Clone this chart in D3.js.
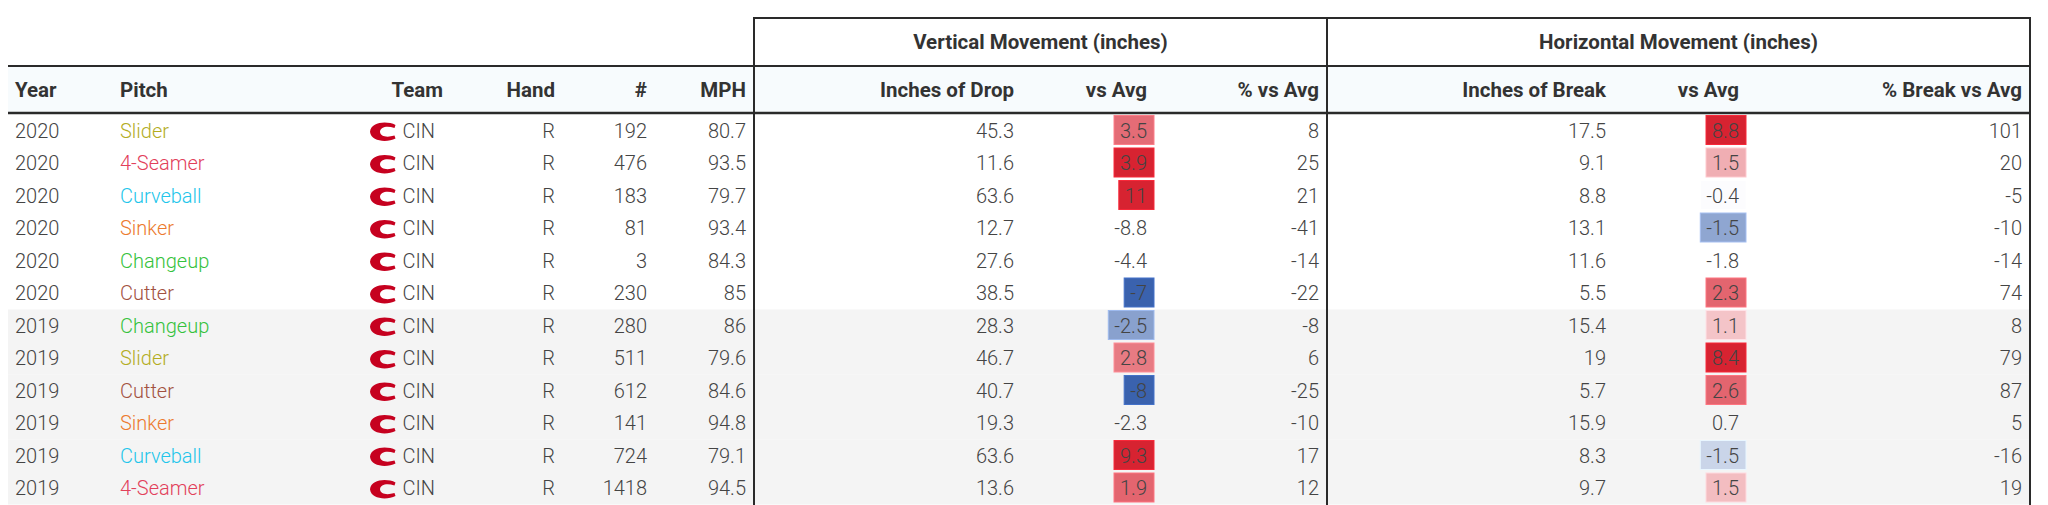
<!DOCTYPE html>
<html>
<head>
<meta charset="utf-8">
<script src="https://cdn.jsdelivr.net/npm/d3@7"></script>
<style>
  html, body { margin: 0; padding: 0; background: #fff; }
  svg { display: block; }
  text { font-family: Roboto, "Noto Sans", sans-serif; }
  .body { font-size: 20px; font-weight: 300; fill: #444; }
  .hdr { font-size: 20.5px; font-weight: 700; fill: #333; }
</style>
</head>
<body>
<svg id="chart" width="2048" height="505"></svg>
<script>
// ---------------- data ----------------
const years    = [2020, 2020, 2020, 2020, 2020, 2020, 2019, 2019, 2019, 2019, 2019, 2019];
const pitches  = ["Slider", "4-Seamer", "Curveball", "Sinker", "Changeup", "Cutter",
                  "Changeup", "Slider", "Cutter", "Sinker", "Curveball", "4-Seamer"];
const teams    = ["CIN", "CIN", "CIN", "CIN", "CIN", "CIN", "CIN", "CIN", "CIN", "CIN", "CIN", "CIN"];
const hands    = ["R", "R", "R", "R", "R", "R", "R", "R", "R", "R", "R", "R"];
const counts   = [192, 476, 183, 81, 3, 230, 280, 511, 612, 141, 724, 1418];
const mph      = [80.7, 93.5, 79.7, 93.4, 84.3, 85, 86, 79.6, 84.6, 94.8, 79.1, 94.5];
const drop     = [45.3, 11.6, 63.6, 12.7, 27.6, 38.5, 28.3, 46.7, 40.7, 19.3, 63.6, 13.6];
const dropVsAvg = [3.5, 3.9, 11, -8.8, -4.4, -7, -2.5, 2.8, -8, -2.3, 9.3, 1.9];
const dropPct  = [8, 25, 21, -41, -14, -22, -8, 6, -25, -10, 17, 12];
const brk      = [17.5, 9.1, 8.8, 13.1, 11.6, 5.5, 15.4, 19, 5.7, 15.9, 8.3, 9.7];
const brkVsAvg = [8.8, 1.5, -0.4, -1.5, -1.8, 2.3, 1.1, 8.4, 2.6, 0.7, -1.5, 1.5];
const brkPct   = [101, 20, -5, -10, -14, 74, 8, 79, 87, 5, -16, 19];
// shading level of the "vs Avg" cells (-3 strong blue .. 3 strong red)
const dropShade = [2, 3, 3, 0, 0, -3, -1.8, 1.8, -3, 0, 3, 2.1];
const brkShade  = [3, 1.1, -0.05, -1.7, 0, 2.1, 0.8, 3, 2.1, 0, -0.8, 0.9];

const headers = ["Year", "Pitch", "Team", "Hand", "#", "MPH",
                 "Inches of Drop", "vs Avg", "% vs Avg",
                 "Inches of Break", "vs Avg", "% Break vs Avg"];
const groups = ["Vertical Movement (inches)", "Horizontal Movement (inches)"];
const pitchNames  = ["Slider", "4-Seamer", "Curveball", "Sinker", "Changeup", "Cutter"];
const pitchColors = ["#b3ad1f", "#e2405a", "#22c5ea", "#ec7a2e", "#35c23c", "#a2513f"];

// ---------------- layout ----------------
const W = 2048, H = 505;
const tableLeft = 8, tableRight = 2030;
const groupTop = 18, headTop = 66, headBottom = 113;
const rowsTop = 114.5, rowH = 32.5;
const colRight = [0, 0, 451, 563, 655, 754, 1022, 1155, 1327, 1614, 1747, 2030];
const colLeft  = [15, 120];
const pad = 8;
const teamTextRight = 435, logoX = 370;
const groupSpans = [[754, 1327], [1327, 2030]];

const svg = d3.select("#chart");
const n = years.length;
const y = d3.scaleBand().domain(d3.range(n)).range([rowsTop, rowsTop + n * rowH]);
const pitchColor = d3.scaleOrdinal().domain(pitchNames).range(pitchColors);
const shade = d3.scaleLinear().domain([-3, 0, 3])
  .range(["#3a62ae", "#ffffff", "#d72331"]).interpolate(d3.interpolateRgb);

// header background
svg.append("rect").attr("x", tableLeft).attr("y", headTop)
  .attr("width", tableRight - tableLeft).attr("height", headBottom - headTop)
  .attr("fill", "#f7fbfd");

// striped rows (2019 season)
svg.append("g").selectAll("rect")
  .data(d3.range(n).filter(i => years[i] === 2019))
  .join("rect")
  .attr("x", tableLeft).attr("y", i => y(i))
  .attr("width", tableRight - tableLeft).attr("height", y.bandwidth())
  .attr("fill", "#f4f4f4");

// group headers
svg.append("g").selectAll("text").data(groups).join("text")
  .attr("class", "hdr")
  .attr("x", (d, i) => (groupSpans[i][0] + groupSpans[i][1]) / 2)
  .attr("y", (groupTop + headTop) / 2).attr("dy", "0.35em")
  .attr("text-anchor", "middle").text(d => d);

// column headers
svg.append("g").selectAll("text").data(headers).join("text")
  .attr("class", "hdr")
  .attr("x", (d, i) => i < 2 ? colLeft[i] : colRight[i] - pad)
  .attr("y", (headTop + headBottom) / 2).attr("dy", "0.35em")
  .attr("text-anchor", (d, i) => i < 2 ? "start" : "end")
  .text(d => d);

// rows
const rows = svg.append("g").selectAll("g").data(d3.range(n)).join("g")
  .attr("transform", i => `translate(0,${y(i) + y.bandwidth() / 2})`);

function cell(col, accessor, anchor) {
  return rows.append("text").attr("class", "body")
    .attr("x", anchor === "start" ? colLeft[col] : colRight[col] - pad)
    .attr("dy", "0.35em")
    .attr("text-anchor", anchor)
    .text(accessor);
}

cell(0, i => years[i], "start");
cell(1, i => pitches[i], "start").style("fill", i => pitchColor(pitches[i]));

// team logo + abbreviation
const logoPath = "M25.5,-6.8 C17,-11 1,-10 0,0 C1,10 17,11 25.5,6.8 L24.5,3.8 C17,6 10.5,5 10,0 C10.5,-5 17,-6 24.5,-3.8 Z";
rows.append("path").attr("d", logoPath)
  .attr("transform", `translate(${logoX},1)`)
  .attr("fill", "#c6011f");
cell(2, i => teams[i], "end").attr("x", teamTextRight);
cell(3, i => hands[i], "end");
cell(4, i => counts[i], "end");
cell(5, i => mph[i], "end");
cell(6, i => drop[i], "end");

function shadedCell(col, values, levels) {
  const g = rows.append("g");
  g.append("text").attr("class", "body")
    .attr("x", colRight[col] - pad).attr("dy", "0.35em")
    .attr("text-anchor", "end").text(i => values[i]);
  g.each(function (i) {
    if (levels[i] === 0) return;
    const tw = d3.select(this).select("text").node().getComputedTextLength();
    const c = shade(levels[i]);
    d3.select(this).insert("rect", "text")
      .attr("x", colRight[col] - pad - tw - 6)
      .attr("y", -y.bandwidth() / 2 + 1)
      .attr("width", tw + 13)
      .attr("height", y.bandwidth() - 3.5)
      .attr("fill", c)
      .attr("stroke", d3.color(c).brighter(0.4))
      .attr("stroke-width", 1);
  });
}
shadedCell(7, dropVsAvg, dropShade);
cell(8, i => dropPct[i], "end");
cell(9, i => brk[i], "end");
shadedCell(10, brkVsAvg, brkShade);
cell(11, i => brkPct[i], "end");

// rules
const lines = svg.append("g").attr("stroke", "#2a2a2a").attr("stroke-width", 2);
lines.append("line").attr("x1", groupSpans[0][0]).attr("x2", tableRight)
  .attr("y1", groupTop).attr("y2", groupTop);
lines.append("line").attr("x1", tableLeft).attr("x2", tableRight)
  .attr("y1", headTop).attr("y2", headTop);
lines.append("line").attr("x1", tableLeft).attr("x2", tableRight)
  .attr("y1", headBottom).attr("y2", headBottom).attr("stroke-width", 2.5);
lines.selectAll("line.v").data([groupSpans[0][0], groupSpans[1][0], tableRight]).join("line")
  .attr("class", "v")
  .attr("x1", d => d).attr("x2", d => d)
  .attr("y1", groupTop - 1).attr("y2", H);
</script>
</body>
</html>
